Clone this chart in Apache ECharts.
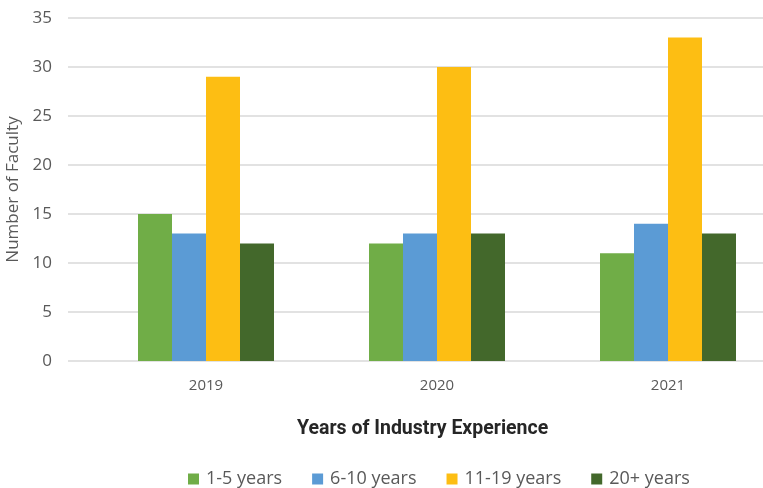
<!DOCTYPE html>
<html><head><meta charset="utf-8">
<script src="https://cdn.jsdelivr.net/npm/echarts@6/dist/echarts.min.js"></script>
<style>html,body{margin:0;padding:0;background:#fff;}#c{width:763px;height:488px;}</style>
</head><body><div id="c"></div>
<script>
const categories = ['2019', '2020', '2021'];
const seriesNames = ['1-5 years', '6-10 years', '11-19 years', '20+ years'];
const s1to5 = [15, 12, 11];
const s6to10 = [13, 13, 14];
const s11to19 = [29, 30, 33];
const s20plus = [12, 13, 13];
const yTicks = [0, 5, 10, 15, 20, 25, 30, 35];
const colors = ['#70AD47', '#5B9BD5', '#FDBE13', '#43682B'];

const values = [s1to5, s6to10, s11to19, s20plus];
const chart = echarts.init(document.getElementById('c'));
const font = '"Open Sans", sans-serif';
chart.setOption({
  animation: false,
  color: colors,
  grid: [
    {left: 68, right: 0, top: 18, bottom: 127, outerBoundsMode: 'none'},
    {left: 90.5, right: -20.5, top: 18, bottom: 127, outerBoundsMode: 'none'}
  ],
  graphic: [{
    type: 'text', left: 297, top: 419,
    style: {text: 'Years of Industry Experience', font: 'bold 19.5px Roboto, sans-serif', fill: '#262626'}
  }],
  legend: {
    data: seriesNames,
    top: 470,
    left: 188,
    padding: 0,
    icon: 'rect',
    itemWidth: 11, itemHeight: 11, itemGap: 30,
    textStyle: {fontFamily: font, fontSize: 18, color: '#595959', padding: [0,0,0,2]}
  },
  xAxis: [
    {type: 'category', gridIndex: 0, data: categories, show: false},
    {type: 'category', gridIndex: 1, data: categories,
     axisLine: {show: false}, axisTick: {show: false},
     axisLabel: {fontFamily: font, fontSize: 15, color: '#595959', margin: 17}}
  ],
  yAxis: [
    {type: 'value', gridIndex: 0, min: yTicks[0], max: yTicks[yTicks.length-1], interval: 5,
     axisLine: {show: false}, axisTick: {show: false},
     splitLine: {lineStyle: {color: '#D9D9D9', width: 1.5}},
     axisLabel: {fontFamily: font, fontSize: 17, color: '#595959', margin: 16},
     name: 'Number of Faculty', nameLocation: 'middle', nameGap: 46,
     nameTextStyle: {fontFamily: font, fontSize: 17, color: '#595959'}},
    {type: 'value', gridIndex: 1, min: yTicks[0], max: yTicks[yTicks.length-1], interval: 5, show: false}
  ],
  series: seriesNames.map((n, i) => ({
    name: n, type: 'bar', xAxisIndex: 1, yAxisIndex: 1,
    data: values[i], barWidth: 34, barGap: '0%',
    itemStyle: {color: colors[i]}
  }))
});
</script></body></html>
